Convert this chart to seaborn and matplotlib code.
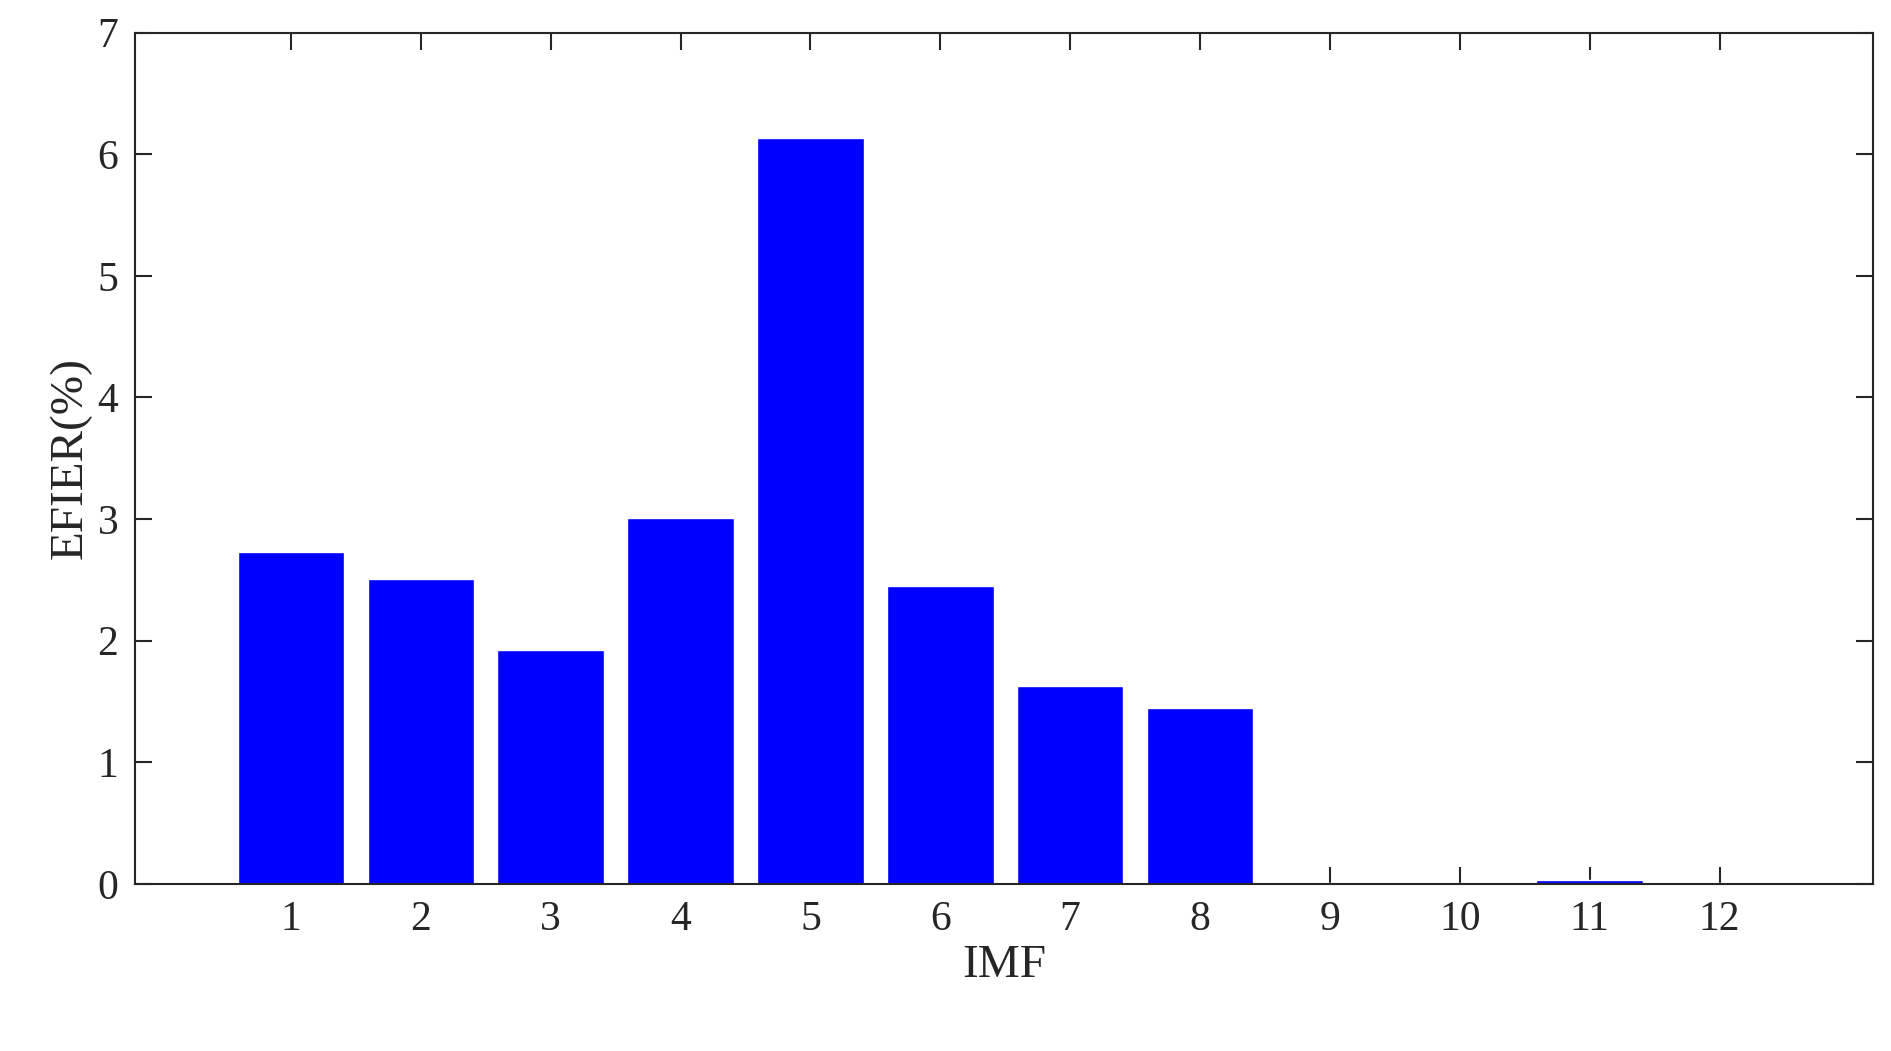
import matplotlib
matplotlib.use("Agg")
import matplotlib.pyplot as plt
import seaborn as sns
import pandas as pd

imf = [str(i) for i in range(1, 13)]
efier = [2.73, 2.51, 1.92, 3.01, 6.13, 2.45, 1.63, 1.45, 0.01, 0.01, 0.03, 0.01]

sns.set_style("white")
plt.rcParams['font.family'] = ['Liberation Serif', 'DejaVu Serif']
df = pd.DataFrame({"IMF": imf, "EFIER": efier})

fig = plt.figure(figsize=(18.91, 10.51), dpi=100)
ax = fig.add_axes([0.0714, 0.159, 0.919, 0.81])
sns.barplot(data=df, x="IMF", y="EFIER", color="#0000ff", saturation=1, width=0.82, ax=ax)
ax.set_xlim(-1.2, 12.18)
ax.set_ylim(0, 7)
ax.set_yticks(range(0, 8))
ax.set_xlabel("IMF", fontsize=34, color="#262626")
ax.set_ylabel("EFIER(%)", fontsize=34, color="#262626")
ax.tick_params(direction="in", length=12, width=1.5, labelsize=30, colors="#262626",
               top=True, right=True, bottom=True, left=True, pad=12)
for s in ax.spines.values():
    s.set_visible(True); s.set_color("#262626"); s.set_linewidth(1.5)
fig.savefig("out.png", dpi=100)
